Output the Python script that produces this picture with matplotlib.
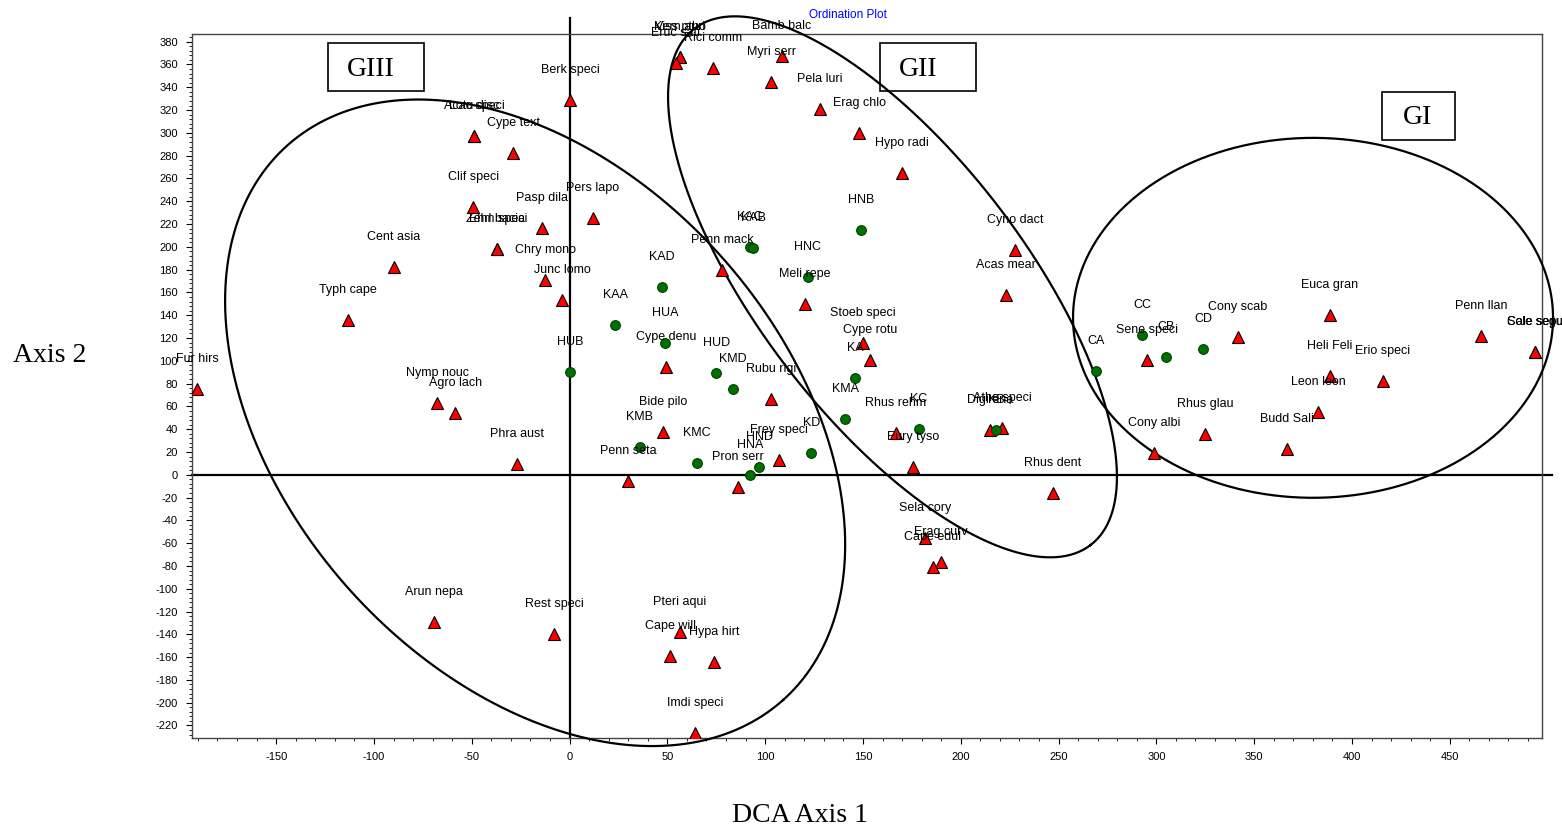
import numpy as np
import matplotlib
matplotlib.use("Agg")
import matplotlib.pyplot as plt
from matplotlib.patches import Rectangle
from matplotlib.ticker import MultipleLocator

plt.rcParams['font.family'] = ['Liberation Sans', 'DejaVu Sans']
plt.rcParams['axes.unicode_minus'] = False

# ---------------- data ----------------
species_names = ["Fur hirs", "Typh cape", "Cent asia", "Nymp nouc", "Agro lach", "Arun nepa",
                 "Phra aust", "Rest speci", "Clif speci", "Lotu disc", "Acac speci", "Cype text",
                 "Zehn speci", "Ehrl bacia", "Pasp dila", "Chry mono", "Junc lomo", "Berk speci",
                 "Pers lapo", "Vern auri", "Kiss ptho", "Eruc sati", "Rici comm", "Bamb balc",
                 "Myri serr", "Pela luri", "Erag chlo", "Hypo radi", "Penn mack", "Meli repe",
                 "Stoeb speci", "Cype rotu", "Cype denu", "Rubu rigi", "Bide pilo", "Penn seta",
                 "Pron serr", "Frey speci", "Rhus rehm", "Eury tyso", "Digi eria", "Athe speci",
                 "Acas mear", "Cyno dact", "Rhus dent", "Sela cory", "Erag curv", "Cape edul",
                 "Pteri aqui", "Cape will", "Hypa hirt", "Imdi speci", "Sene speci", "Cony scab",
                 "Euca gran", "Heli Feli", "Erio speci", "Leon leon", "Budd Sali", "Rhus glau",
                 "Cony albi", "Penn llan", "Cale sepu", "Sole segu"]
species_x = [-190.4, -113.2, -89.7, -67.7, -58.5, -69.3,
             -26.8, -7.9, -49.3, -48.8, -48.8, -28.9,
             -37.1, -37.1, -14.1, -12.5, -3.8, 0.3,
             12.0, 56.5, 56.5, 54.4, 73.4, 108.6,
             103.0, 128.1, 148.0, 170.0, 78.0, 120.4,
             150.0, 153.6, 49.3, 103.0, 47.8, 29.9,
             86.1, 107.1, 166.9, 175.6, 215.0, 221.1,
             223.2, 227.8, 247.2, 181.7, 190.0, 185.8,
             56.5, 51.4, 73.9, 64.2, 295.3, 341.8,
             388.8, 388.8, 415.9, 382.7, 366.8, 324.9,
             298.8, 466.0, 493.6, 493.6]
species_y = [75.4, 136.0, 182.5, 63.2, 54.4, -128.9,
             9.6, -139.5, 235.1, 297.4, 297.4, 282.5,
             198.2, 198.2, 216.7, 171.1, 153.5, 329.0,
             225.4, 366.7, 366.7, 361.4, 357.0, 367.5,
             344.7, 321.1, 300.0, 264.9, 179.8, 150.0,
             115.8, 100.9, 94.7, 66.7, 37.7, -5.3,
             -10.5, 13.2, 36.8, 7.0, 39.5, 41.2,
             157.9, 197.4, -15.8, -55.3, -76.3, -80.7,
             -137.7, -158.8, -164.0, -226.3, 100.9, 121.1,
             140.4, 86.8, 82.5, 55.3, 22.8, 36.0,
             19.3, 121.9, 107.9, 107.9]

group_names = ["HUB", "KAA", "KAD", "HUA", "HUD", "KMD", "KMB", "KMC", "HNA", "HND", "KD",
               "KAC", "KAB", "HNC", "HNB", "KA", "KMA", "KC", "KB", "CA", "CC", "CB", "CD"]
group_x = [0.3, 23.3, 47.3, 48.8, 74.9, 83.6, 36.0, 65.2, 92.3, 96.9, 123.5,
           92.3, 93.8, 121.9, 149.0, 145.9, 140.9, 178.7, 218.0, 269.2, 292.7, 304.9, 323.8]
group_y = [90.4, 131.6, 164.9, 115.8, 89.5, 75.4, 24.6, 10.5, 0.0, 7.0, 19.3,
           200.0, 199.1, 173.7, 214.9, 85.1, 49.1, 40.4, 39.5, 91.2, 122.8, 103.5, 110.5]

# hand-drawn group ellipses: centre and two conjugate semi-diameters (data units)
ellipse_names = ["GIII", "GII", "GI"]
ellipse_centres = [(-17.6, 45.6), (165.1, 164.9), (380.1, 137.7)]
ellipse_u = [(126.8, -243.2), (101.3, -226.5), (122.7, 0.0)]
ellipse_v = [(-95.1, -146.0), (-53.9, -70.9), (0.0, 157.9)]

x_ticks = list(range(-150, 451, 50))
y_ticks = list(range(-220, 381, 20))

# ---------------- figure ----------------
fig = plt.figure(figsize=(15.62, 8.30), dpi=100)
ax = fig.add_axes([0.1227, 0.1108, 0.987 - 0.1227, 0.9587 - 0.1108])
ax.set_xlim(-193.2, 497)
ax.set_ylim(-231, 386.5)

for s in ax.spines.values():
    s.set_color('#444444')
    s.set_linewidth(1.0)

ax.set_xticks(x_ticks)
ax.set_yticks(y_ticks)
ax.xaxis.set_minor_locator(MultipleLocator(10))
ax.yaxis.set_minor_locator(MultipleLocator(4))
ax.tick_params(axis='both', which='major', labelsize=8, length=4, width=0.8, direction='out', pad=6)
ax.tick_params(axis='both', which='minor', length=2, width=0.6, direction='out')

# cross lines
ax.axhline(0, xmin=0, xmax=1.0075, color='black', lw=1.6, clip_on=False, zorder=2)
ax.axvline(0, ymin=0, ymax=1.023, color='black', lw=1.6, clip_on=False, zorder=2)

# ellipses
t = np.linspace(0, 2 * np.pi, 500)
for (cx, cy), (ux, uy), (vx, vy) in zip(ellipse_centres, ellipse_u, ellipse_v):
    ex = cx + ux * np.cos(t) + vx * np.sin(t)
    ey = cy + uy * np.cos(t) + vy * np.sin(t)
    ax.plot(ex, ey, color='black', lw=1.6, clip_on=False, zorder=3)

# points
ax.plot(species_x, species_y, linestyle='none', marker='^', markersize=9,
        markerfacecolor='#ff0000', markeredgecolor='black', markeredgewidth=0.8, zorder=5)
ax.plot(group_x, group_y, linestyle='none', marker='o', markersize=7,
        markerfacecolor='#007000', markeredgecolor='#004000', markeredgewidth=0.8, zorder=5)

for name, x, y in zip(species_names, species_x, species_y):
    ax.annotate(name, (x, y), xytext=(0, 21.6), textcoords='offset points',
                ha='center', va='center', fontsize=9, color='black', zorder=6,
                annotation_clip=False)
for name, x, y in zip(group_names, group_x, group_y):
    ax.annotate(name, (x, y), xytext=(0, 21.6), textcoords='offset points',
                ha='center', va='center', fontsize=9, color='black', zorder=6,
                annotation_clip=False)

# title and axis labels
fig.text(848 / 1562, 1 - 15 / 830, "Ordination Plot", color='#0000ff', fontsize=8.5,
         ha='center', va='center')
fig.text(50 / 1562, 1 - 355 / 830, "Axis 2", fontsize=20, family='Liberation Serif',
         ha='center', va='center')
fig.text(800 / 1562, 1 - 815 / 830, "DCA Axis 1", fontsize=20, family='Liberation Serif',
         ha='center', va='center')

# group boxes
boxes = [((328, 43, 424, 91), (371, 69)),
         ((880, 43, 976, 91), (918, 69)),
         ((1382, 92, 1455, 140), (1418, 117))]
for name, ((x0, y0, x1, y1), (tx, ty)) in zip(ellipse_names, boxes):
    fig.patches.append(Rectangle((x0 / 1562, 1 - y1 / 830), (x1 - x0) / 1562, (y1 - y0) / 830,
                                 transform=fig.transFigure, fill=False, edgecolor='black',
                                 linewidth=1.2))
    fig.text(tx / 1562, 1 - ty / 830, name, fontsize=20, family='Liberation Serif',
             ha='center', va='center')

fig.savefig("out.png", dpi=100)
